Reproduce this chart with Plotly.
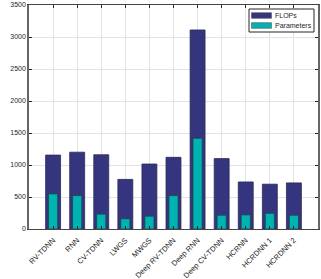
import plotly.graph_objects as go

categories = ["RV-TDNN", "RNN", "CV-TDNN", "LWGS", "MWGS", "Deep RV-TDNN",
              "Deep RNN", "Deep CV-TDNN", "HCRNN", "HCRDNN 1", "HCRDNN 2"]
flops = [1155, 1200, 1160, 775, 1015, 1120, 3110, 1100, 735, 700, 720]
params = [548, 522, 232, 160, 200, 522, 1418, 215, 220, 245, 215]
yticks = [0, 500, 1000, 1500, 2000, 2500, 3000, 3500]
series_names = ["FLOPs", "Parameters"]
series_colors = ["#35357F", "#00B3B3"]

xpos = list(range(1, len(categories) + 1))
font = dict(family="Liberation Sans, Arial, sans-serif", size=7, color="#262626")
xfont = dict(family="Liberation Sans, Arial, sans-serif", size=7.5, color="#262626")

L, R, T, B = 29, 3, 5, 50
W, H = 321, 279
PW, PH = W - L - R, H - T - B
def px(x):
    return (x - L) / PW
def py(y):
    return (H - B - y) / PH

fig = go.Figure()
fig.add_trace(go.Bar(x=xpos, y=flops, width=0.62, name=series_names[0],
                     marker=dict(color=series_colors[0], line=dict(color="#2a2a55", width=0.8))))
fig.add_trace(go.Bar(x=xpos, y=params, width=0.38, name=series_names[1],
                     marker=dict(color=series_colors[1], line=dict(color="#1a4a4a", width=0.8))))

shapes = [dict(type="rect", xref="paper", yref="paper", x0=px(249), x1=px(314),
               y0=py(32), y1=py(9), fillcolor="white", line=dict(color="#262626", width=1))]
annotations = []
for i, (nm, col) in enumerate(zip(series_names, series_colors)):
    yc = 15.5 + 10 * i
    shapes.append(dict(type="rect", xref="paper", yref="paper", x0=px(251.5), x1=px(271.5),
                       y0=py(yc + 2.8), y1=py(yc - 2.8), fillcolor=col,
                       line=dict(color="#555555", width=0.6)))
    annotations.append(dict(xref="paper", yref="paper", x=px(272.5), y=py(yc), text=nm,
                            showarrow=False, xanchor="left", yanchor="middle",
                            font=dict(family=font["family"], size=7, color="#262626")))

fig.update_layout(
    width=W, height=H, barmode="overlay",
    margin=dict(l=L, r=R, t=T, b=B),
    paper_bgcolor="white", plot_bgcolor="white",
    font=font, showlegend=False,
    shapes=shapes, annotations=annotations,
    xaxis=dict(range=[0, 12], tickmode="array", tickvals=xpos, ticktext=categories,
               tickangle=-45, showgrid=True, gridcolor="#e3e3e3", gridwidth=1,
               ticks="inside", ticklen=3, tickcolor="#262626", automargin=False,
               showline=True, linecolor="#444444", linewidth=1, mirror="ticks",
               zeroline=False, tickfont=xfont, ticklabelstandoff=3),
    yaxis=dict(range=[0, 3500], tickmode="array", tickvals=yticks,
               showgrid=True, gridcolor="#e3e3e3", gridwidth=1,
               ticks="inside", ticklen=3, tickcolor="#262626", automargin=False,
               showline=True, linecolor="#666666", linewidth=1.5, mirror="ticks",
               zeroline=False, tickfont=font),
)
fig.write_html("out.html", config={"displayModeBar": False},
               post_script="document.body.style.margin='0px';")
